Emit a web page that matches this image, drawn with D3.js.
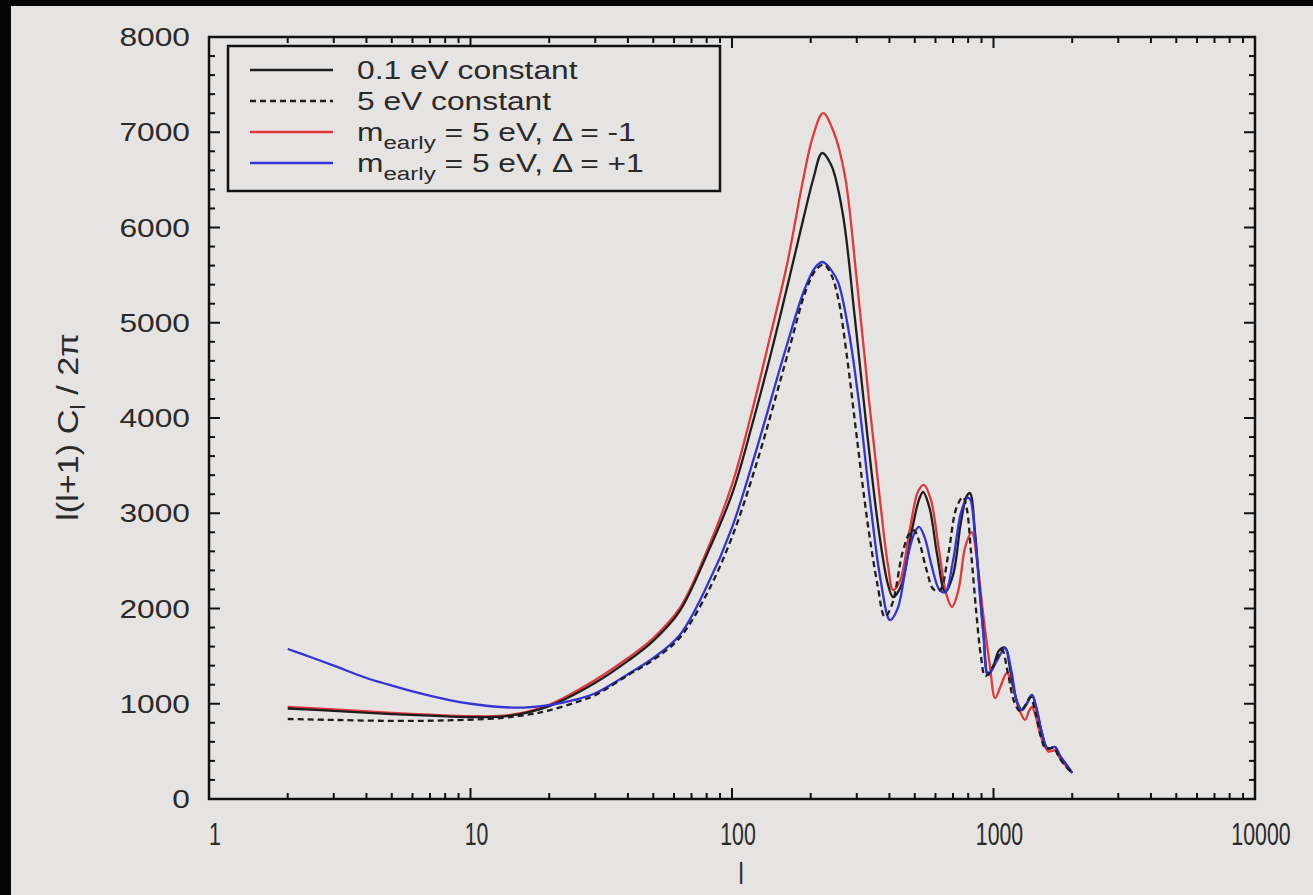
<!DOCTYPE html>
<html>
<head>
<meta charset="utf-8">
<script src="https://cdn.jsdelivr.net/npm/d3@7/dist/d3.min.js"></script>
<style>
  html, body { margin: 0; padding: 0; background: #000; }
  svg { display: block; }
  text { font-family: "Liberation Sans", Arial, Helvetica, sans-serif; fill: #2a2a2a; }
</style>
</head>
<body>
<svg id="chart" width="1313" height="895"></svg>
<script>
// Multipole axis ticks
const xTickValues = [1, 10, 100, 1000, 10000];
const xTickLabels = ["1", "10", "100", "1000", "10000"];
const yTickValues = [0, 1000, 2000, 3000, 4000, 5000, 6000, 7000, 8000];
const yTickLabels = ["0", "1000", "2000", "3000", "4000", "5000", "6000", "7000", "8000"];

// 0.1 eV constant (solid black)
const ellLight = [2, 3, 5, 7, 10, 14, 20, 30, 40, 50, 63, 80, 100, 120, 142, 165, 187, 205, 221, 240, 265, 295, 330, 365, 395, 413, 445, 490, 520, 538, 570, 610, 653, 700, 750, 790, 813, 850, 881, 915, 953, 1000, 1050, 1107, 1160, 1230, 1285, 1340, 1403, 1460, 1530, 1603, 1660, 1718, 1800, 1900, 2000];
const clLight = [950, 925, 892, 875, 860, 872, 975, 1220, 1450, 1660, 1970, 2560, 3200, 3950, 4714, 5450, 6080, 6520, 6782, 6650, 6150, 5050, 3800, 2800, 2250, 2120, 2250, 2850, 3150, 3223, 3050, 2550, 2173, 2350, 2900, 3180, 3212, 2800, 2270, 1750, 1302, 1400, 1560, 1590, 1350, 1020, 934, 1000, 1092, 950, 700, 535, 535, 546, 450, 360, 275];

// 5 eV constant (dashed black)
const ellHeavy = [2, 3, 5, 8, 13, 17, 20, 25, 30, 40, 50, 63, 80, 100, 125, 165, 192, 210, 225, 240, 255, 275, 300, 330, 360, 384, 410, 450, 480, 497, 520, 555, 590, 624, 670, 720, 764, 790, 820, 860, 895, 930, 1000, 1078, 1130, 1200, 1265, 1320, 1385, 1440, 1510, 1580, 1640, 1700, 1780, 1880, 2000];
const clHeavy = [840, 830, 820, 825, 850, 890, 930, 1010, 1090, 1300, 1460, 1690, 2150, 2750, 3550, 4714, 5344, 5560, 5610, 5500, 5250, 4650, 3800, 2900, 2250, 1911, 2050, 2600, 2800, 2820, 2700, 2400, 2200, 2190, 2550, 3050, 3170, 3050, 2600, 1950, 1500, 1290, 1400, 1564, 1350, 1020, 920, 980, 1070, 930, 680, 530, 530, 540, 440, 350, 270];

// m_early = 5 eV, Delta = -1 (red)
const ellMinus = [2, 3, 5, 7, 10, 14, 20, 30, 40, 50, 63, 80, 100, 120, 136, 162, 187, 204, 223, 245, 270, 300, 334, 368, 395, 413, 440, 480, 515, 542, 575, 620, 660, 694, 735, 780, 826, 870, 912, 970, 1014, 1070, 1125, 1180, 1250, 1320, 1365, 1403, 1450, 1520, 1620, 1720, 1800, 1900, 2000];
const clMinus = [966, 940, 905, 885, 870, 880, 990, 1250, 1480, 1690, 2000, 2600, 3300, 4100, 4714, 5600, 6500, 6960, 7200, 7000, 6550, 5450, 4190, 3140, 2450, 2194, 2300, 2850, 3230, 3297, 3150, 2600, 2150, 2016, 2200, 2650, 2800, 2450, 1953, 1386, 1060, 1200, 1323, 1200, 950, 830, 920, 966, 870, 650, 500, 510, 420, 340, 275];

// m_early = 5 eV, Delta = +1 (blue)
const ellPlus = [2, 2.5, 3, 4, 4.63, 6, 8.3, 10, 13, 16, 20, 25, 30, 40.7, 50, 63, 80, 100, 125, 160, 189, 208, 222, 240, 255, 280, 303, 337, 370, 402, 430, 470, 500, 519, 545, 580, 620, 653, 700, 750, 792, 813, 850, 881, 915, 953, 1030, 1107, 1170, 1230, 1285, 1340, 1403, 1460, 1530, 1603, 1660, 1718, 1800, 1900, 2000];
const clPlus = [1575, 1480, 1400, 1270, 1218, 1130, 1039, 1000, 966, 960, 985, 1040, 1110, 1323, 1480, 1720, 2230, 2850, 3700, 4714, 5344, 5580, 5638, 5550, 5420, 4900, 4250, 3140, 2300, 1879, 2000, 2550, 2800, 2856, 2750, 2450, 2200, 2170, 2500, 3000, 3160, 3150, 2750, 2250, 1730, 1302, 1450, 1585, 1350, 1020, 934, 1000, 1092, 950, 700, 535, 535, 546, 450, 360, 275];

const seriesNames = ["0.1 eV constant", "5 eV constant", "m_early = 5 eV, \u0394 = -1", "m_early = 5 eV, \u0394 = +1"];
const seriesColors = ["#1e1e1e", "#1e1e1e", "#e2383c", "#3434d6"];

const svg = d3.select("#chart");
const W = 1313, H = 895;
const BG = "#e6e4e3";

// page background with a dark strip along the left and top edges
svg.append("rect").attr("x", 0).attr("y", 0).attr("width", W).attr("height", H).attr("fill", "#050505");
svg.append("rect").attr("x", 11).attr("y", 6).attr("width", W - 11).attr("height", H - 6).attr("fill", BG);

const plot = { left: 209, right: 1255, top: 37, bottom: 799 };
const x = d3.scaleLog().domain([1, 10000]).range([plot.left, plot.right]);
const y = d3.scaleLinear().domain([0, 8000]).range([plot.bottom, plot.top]);

// text drawn with an anisotropic glyph scale (sx horizontal, sy vertical)
function scaledText(g, tx, ty, anchor, str, size, sx, sy) {
  return g.append("text")
    .attr("transform", `translate(${tx},${ty}) scale(${sx},${sy})`)
    .attr("text-anchor", anchor)
    .attr("font-size", size)
    .text(str);
}

// curves
const curves = [
  { ell: ellLight, cl: clLight, dash: null },
  { ell: ellHeavy, cl: clHeavy, dash: "6,4" },
  { ell: ellMinus, cl: clMinus, dash: null },
  { ell: ellPlus, cl: clPlus, dash: null }
];
const line = d3.line().x(d => x(d[0])).y(d => y(d[1])).curve(d3.curveCatmullRom.alpha(0.5));
const drawOrder = [2, 0, 3, 1];
drawOrder.forEach(i => {
  const c = curves[i];
  svg.append("path")
    .datum(c.ell.map((l, k) => [l, c.cl[k]]))
    .attr("d", line)
    .attr("fill", "none")
    .attr("stroke", seriesColors[i])
    .attr("stroke-width", 2.3)
    .attr("stroke-dasharray", c.dash)
    .attr("stroke-linejoin", "round");
});

// frame ticks (inward, mirrored on all four sides)
const ax = svg.append("g").attr("stroke", "#111").attr("stroke-width", 2);
const majorLen = 11, minorLen = 6;
const xMinor = [];
[1, 10, 100, 1000].forEach(d => { for (let k = 2; k <= 9; k++) xMinor.push(d * k); });
xTickValues.forEach(v => {
  ax.append("line").attr("x1", x(v)).attr("x2", x(v)).attr("y1", plot.bottom).attr("y2", plot.bottom - majorLen);
  ax.append("line").attr("x1", x(v)).attr("x2", x(v)).attr("y1", plot.top).attr("y2", plot.top + majorLen);
});
xMinor.forEach(v => {
  ax.append("line").attr("x1", x(v)).attr("x2", x(v)).attr("y1", plot.bottom).attr("y2", plot.bottom - minorLen);
  ax.append("line").attr("x1", x(v)).attr("x2", x(v)).attr("y1", plot.top).attr("y2", plot.top + minorLen);
});
d3.range(0, 8001, 200).forEach(v => {
  const len = v % 1000 === 0 ? majorLen : minorLen;
  ax.append("line").attr("x1", plot.left).attr("x2", plot.left + len).attr("y1", y(v)).attr("y2", y(v));
  ax.append("line").attr("x1", plot.right).attr("x2", plot.right - len).attr("y1", y(v)).attr("y2", y(v));
});
svg.append("rect")
  .attr("x", plot.left).attr("y", plot.top)
  .attr("width", plot.right - plot.left).attr("height", plot.bottom - plot.top)
  .attr("fill", "none").attr("stroke", "#111").attr("stroke-width", 2.5);

// tick labels
const labels = svg.append("g");
xTickValues.forEach((v, i) => scaledText(labels, x(v) + 6, 845, "middle", xTickLabels[i], 26, 0.82, 1.18));
yTickValues.forEach((v, i) => scaledText(labels, 190, y(v) + 9, "end", yTickLabels[i], 25, 1.27, 1));

// axis titles
scaledText(svg, 741, 884, "middle", "l", 26, 0.9, 1.12);
const yt = svg.append("text")
  .attr("transform", "translate(78,427) rotate(-90) scale(1.37,1.2)")
  .attr("text-anchor", "middle")
  .attr("font-size", 25);
yt.append("tspan").text("l(l+1) C");
yt.append("tspan").attr("font-size", 17).attr("dy", 6).text("l");
yt.append("tspan").attr("dy", -6).text(" / 2\u03c0");

// legend
const lg = svg.append("g");
lg.append("rect").attr("x", 228).attr("y", 46).attr("width", 492).attr("height", 145)
  .attr("fill", BG).attr("stroke", "#111").attr("stroke-width", 2.5);
const rowY = [70, 101, 132, 163];
seriesNames.forEach((name, i) => {
  lg.append("line").attr("x1", 250).attr("x2", 333).attr("y1", rowY[i]).attr("y2", rowY[i])
    .attr("stroke", seriesColors[i]).attr("stroke-width", 2.3)
    .attr("stroke-dasharray", i === 1 ? "6,4" : null);
  const t = lg.append("text")
    .attr("transform", `translate(357,${rowY[i] + 9}) scale(1.27,1)`)
    .attr("font-size", 25);
  if (name.startsWith("m_early")) {
    t.append("tspan").text("m");
    t.append("tspan").attr("font-size", 19).attr("dy", 8).text("early");
    t.append("tspan").attr("dy", -8).text(name.slice("m_early".length));
  } else {
    t.text(name);
  }
});
</script>
</body>
</html>
